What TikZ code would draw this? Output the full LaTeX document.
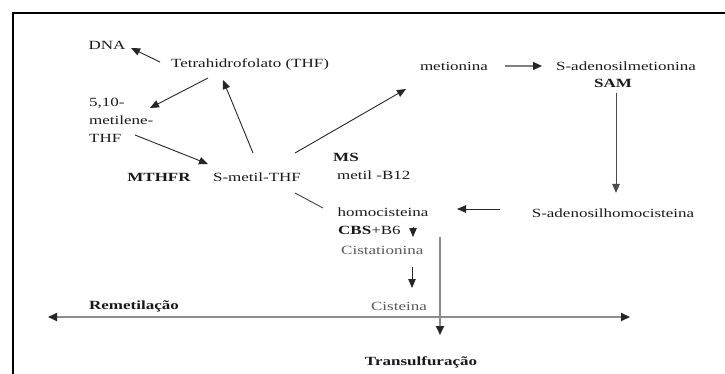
\documentclass[tikz,border=0pt]{standalone}
\usepackage{fontspec}
\setmainfont{Liberation Serif}[FakeStretch=1.36]
\usetikzlibrary{arrows.meta}
\begin{document}
\begin{tikzpicture}[x=1pt,y=-1pt,
  every node/.style={font=\fontsize{12.5}{18}\selectfont, inner sep=1pt, text=black!90},
  bold/.style={font=\fontsize{12.5}{18}\selectfont\bfseries},
  pale/.style={text=black!65},
  arr/.style={-{Triangle[length=9pt,width=7.5pt]}, line width=0.9pt, draw=black!85},
  plain/.style={line width=0.9pt, draw=black!75},
  grayarr/.style={-{Triangle[length=9pt,width=8pt,color=black!85]}, line width=1.8pt, draw=black!45},
  grayboth/.style={{Triangle[length=9pt,width=8pt,color=black!85]}-{Triangle[length=9pt,width=8pt,color=black!85]}, line width=1.8pt, draw=black!45},
]
\useasboundingbox (0,0) rectangle (725,374);
\draw[line width=2.6pt] (13,380) -- (13,13) -- (730,13);

% nodes
\node (dna) at (107,45) {DNA};
\node (thf) at (250,64) {Tetrahidrofolato (THF)};
\node[anchor=west, align=left] (mt) at (88,120) {5,10-\\metilene-\\THF};
\node (smthf) at (257,177) {S-metil-THF};
\node[bold] (mthfr) at (159,177) {MTHFR};
\node (met) at (454,66) {metionina};
\node (sam) at (626,66) {S-adenosilmetionina};
\node[bold] (samb) at (613,83) {SAM};
\node (sah) at (613,213) {S-adenosilhomocisteina};
\node (hcy) at (383,212) {homocisteina};
\node[anchor=west] (cbs) at (337,230) {\textbf{CBS}+B6};
\node[anchor=west, pale] (cist) at (340,250) {Cistationina};
\node[pale] (cys) at (399,306) {Cisteina};
\node[bold, anchor=west] (ms) at (332,157) {MS};
\node[anchor=west] (b12) at (336,175) {metil -B12};
\node[bold] (remet) at (134,306) {Remetilação};
\node[bold] (trans) at (421,362) {Transulfuração};

% connector end points
\coordinate (a1) at (160,62);   \coordinate (a1e) at (131,48);
\coordinate (a2) at (208,78);   \coordinate (a2e) at (150,108);
\coordinate (a3) at (135,135);  \coordinate (a3e) at (208,164);
\coordinate (a4) at (253,153);  \coordinate (a4e) at (223,80);
\coordinate (a5) at (295,153);  \coordinate (a5e) at (406,89);
\coordinate (a6) at (505,66);   \coordinate (a6e) at (542,66);
\coordinate (a7) at (616,93);   \coordinate (a7e) at (616,193);
\coordinate (a8) at (500,209);  \coordinate (a8e) at (457,209);
\coordinate (a9) at (295,193);  \coordinate (a9e) at (323,208);
\coordinate (a10) at (413,227); \coordinate (a10e) at (413,237);
\coordinate (a11) at (412,267); \coordinate (a11e) at (412,288);
\coordinate (a12) at (440,237); \coordinate (a12e) at (440,335);
\coordinate (h1) at (48,317);   \coordinate (h2) at (630,317);

\draw[arr] (a1) -- (a1e);
\draw[arr] (a2) -- (a2e);
\draw[arr] (a3) -- (a3e);
\draw[arr] (a4) -- (a4e);
\draw[arr] (a5) -- (a5e);
\draw[-{Triangle[length=9pt,width=8pt,color=black!85]}, line width=1.5pt, draw=black!50] (a6) -- (a6e);
\draw[arr, draw=black!70] (a7) -- (a7e);
\draw[arr] (a8) -- (a8e);
\draw[plain] (a9) -- (a9e);
\draw[arr] (a10) -- (a10e);
\draw[arr] (a11) -- (a11e);
\draw[grayarr] (a12) -- (a12e);
\draw[grayboth] (h1) -- (h2);
\end{tikzpicture}
\end{document}
